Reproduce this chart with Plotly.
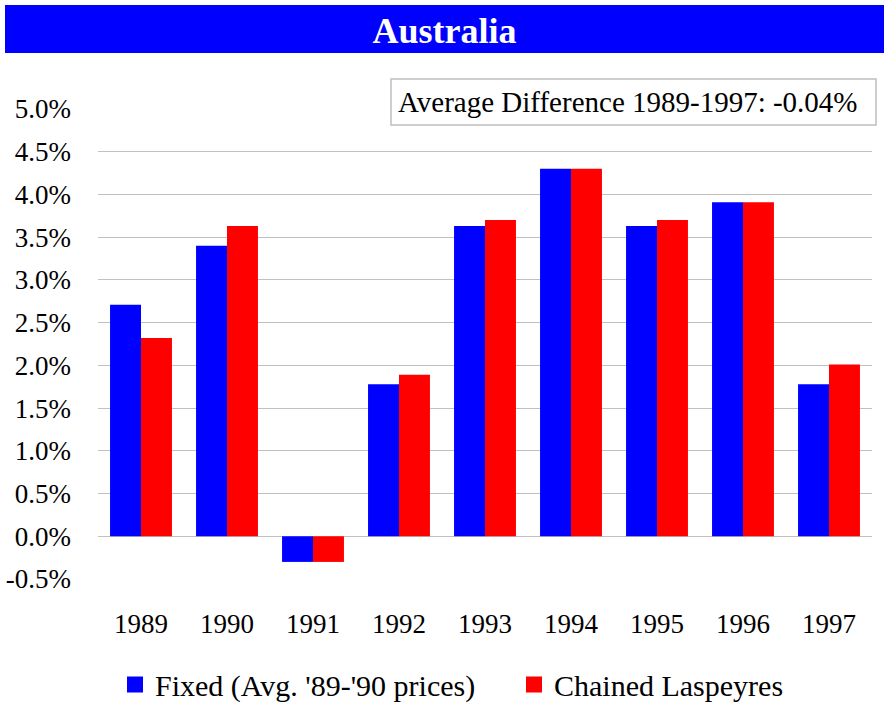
import plotly.graph_objects as go

years = ["1989", "1990", "1991", "1992", "1993", "1994", "1995", "1996", "1997"]
fixed = [2.71, 3.40, -0.30, 1.78, 3.63, 4.30, 3.63, 3.91, 1.78]
chained = [2.32, 3.63, -0.30, 1.89, 3.70, 4.30, 3.70, 3.91, 2.01]
series_names = ["Fixed (Avg. '89-'90 prices)", "Chained Laspeyres"]
tick_vals = [-0.5, 0.0, 0.5, 1.0, 1.5, 2.0, 2.5, 3.0, 3.5, 4.0, 4.5, 5.0]
tick_text = [f"{v:.1f}%" for v in tick_vals]
title_text = "Australia"
note_text = "Average Difference 1989-1997: -0.04%"

BLUE = "#0000ff"
RED = "#ff0000"
FONT = "Liberation Serif"

fig = go.Figure()
fig.add_trace(go.Bar(x=years, y=fixed, name=series_names[0],
                     marker=dict(color=BLUE, line=dict(width=0)), showlegend=False))
fig.add_trace(go.Bar(x=years, y=chained, name=series_names[1],
                     marker=dict(color=RED, line=dict(width=0)), showlegend=False))
# legend entries with large square swatches
fig.add_trace(go.Scatter(x=[None], y=[None], mode="markers", name=series_names[0],
                         marker=dict(symbol="square", size=19, color=BLUE), legend="legend"))
fig.add_trace(go.Scatter(x=[None], y=[None], mode="markers", name=series_names[1],
                         marker=dict(symbol="square", size=19, color=RED), legend="legend2"))

W, H = 884, 707
L, R, T, B = 98, 12, 109, 128
pw = W - L - R
ph = H - T - B


def px(x):
    return (x - L) / pw


def py(y):
    return (H - B - y) / ph


leg_common = dict(orientation="h", xanchor="left", yanchor="middle",
                  xref="container", yref="container",
                  font=dict(family=FONT, size=30, color="black"),
                  bgcolor="rgba(0,0,0,0)", itemsizing="trace")

fig.update_layout(
    width=W, height=H,
    margin=dict(l=L, r=R, t=T, b=B, autoexpand=False),
    paper_bgcolor="white", plot_bgcolor="white",
    font=dict(family=FONT, size=27, color="black"),
    barmode="group", bargap=0.28, bargroupgap=0.0,
    showlegend=True,
    legend=dict(x=115 / W, y=1 - 684.5 / H, **leg_common),
    legend2=dict(x=514 / W, y=1 - 684.5 / H, **leg_common),
    xaxis=dict(type="category", showgrid=False, showline=False, ticks="", automargin=False,
               tickfont=dict(family=FONT, size=27, color="black"), ticklabelstandoff=26),
    yaxis=dict(range=[-0.5, 5.0], tickvals=tick_vals, ticktext=tick_text, automargin=False,
               showgrid=True, gridcolor="#c0c0c0", gridwidth=1,
               zeroline=True, zerolinecolor="#c0c0c0", zerolinewidth=1,
               showline=False, ticks="", tickfont=dict(family=FONT, size=27, color="black"),
               ticklabelstandoff=26),
    title=dict(text="<b>" + title_text + "</b>", x=444.5 / W, xanchor="center",
               y=1 - 30 / H, yanchor="middle", xref="container", yref="container",
               font=dict(family=FONT, size=36, color="white")),
)

# blue title band
fig.add_shape(type="rect", xref="paper", yref="paper",
              x0=px(5), x1=px(884), y0=py(53), y1=py(5),
              fillcolor=BLUE, line=dict(width=0), layer="below")
# note box
fig.add_shape(type="rect", xref="paper", yref="paper",
              x0=px(391), x1=px(876), y0=py(125), y1=py(79),
              fillcolor="white", line=dict(color="#bfbfbf", width=1.5), layer="above")
fig.add_annotation(text=note_text, xref="paper", yref="paper",
                   x=px(396), xanchor="left", y=py(102), yanchor="middle",
                   showarrow=False, font=dict(family=FONT, size=29, color="black"))

fig.write_html(
    "out.html",
    config={"displayModeBar": False},
    post_script="document.body.style.margin='0';document.body.style.padding='0';"
                "document.body.style.overflow='hidden';",
)
